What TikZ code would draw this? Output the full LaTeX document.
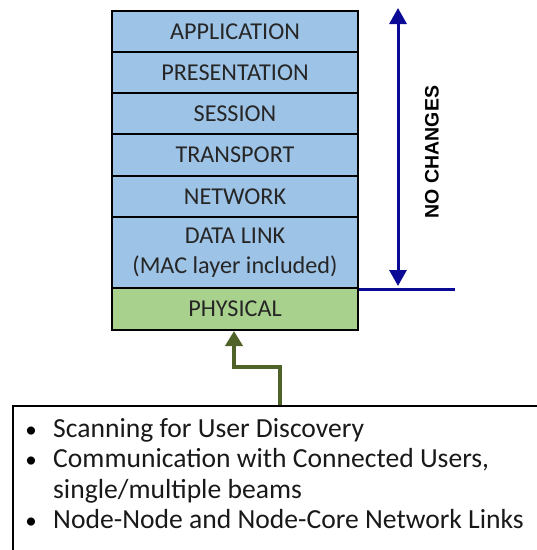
\documentclass[tikz,border=0pt]{standalone}
\usepackage{fontspec}
\setmainfont{Carlito}
\newfontfamily\arialfont{Liberation Sans}
\usetikzlibrary{arrows.meta,calc}
\definecolor{layerblue}{RGB}{157,195,230}
\definecolor{layergreen}{RGB}{169,209,142}
\definecolor{navyline}{RGB}{10,10,150}
\definecolor{olivegreen}{RGB}{79,98,40}
\tikzset{
  layer/.style={draw=black, line width=2pt, fill=layerblue, rectangle, inner sep=0pt,
    minimum width=246pt, anchor=north west, font=\fontsize{24.2}{30}\selectfont, align=center,
    text=black!85},
  bullettext/.style={anchor=base west, inner sep=0pt, font=\fontsize{27.6}{30}\selectfont, text=black!90},
  bulletmark/.style={anchor=base, inner sep=0pt, font=\fontsize{23}{26}\selectfont},
}
\begin{document}
\begin{tikzpicture}[x=1pt,y=-1pt]
\useasboundingbox (0,0) rectangle (537,550);
\node[layer, minimum height=41pt] (app) at (111,10) {APPLICATION};
\node[layer, minimum height=41pt] (pres) at (111,51) {PRESENTATION};
\node[layer, minimum height=41pt] (sess) at (111,92) {SESSION};
\node[layer, minimum height=42pt] (trans) at (111,133) {TRANSPORT};
\node[layer, minimum height=41pt] (net) at (111,175) {NETWORK};
\node[layer, minimum height=71pt] (dl) at (111,216) {DATA LINK\\(MAC layer included)};
\node[layer, minimum height=42pt, fill=layergreen] (phys) at (111,287) {PHYSICAL};

% blue bracket
\coordinate (hend) at (455,287);
\coordinate (atop) at (398,8);
\coordinate (abot) at (398,286);
\draw[navyline, line width=3pt] (dl.south east) -- (dl.south east -| hend);
\draw[navyline, line width=3pt, {Triangle[length=16pt,width=17pt]}-{Triangle[length=16pt,width=17pt]}] (atop) -- (abot);
\node[rotate=90, font=\arialfont\bfseries\fontsize{19.5}{22}\selectfont, inner sep=0pt] (nochg) at (432,152) {NO CHANGES};

% bottom box
\node[draw=black, line width=1.5pt, rectangle, inner sep=0pt, anchor=north west,
  minimum width=560pt, minimum height=170pt] (box) at (12,405) {};
\coordinate (gstart) at (280,405);
\draw[olivegreen, line width=4pt, -{Triangle[length=15pt,width=17pt]}]
  (gstart) -- (280,367) -- (234,367) -- (phys.south -| 234,0);

\node[bulletmark] (b1) at (31,437) {\textbullet};
\node[bullettext] (t1) at (53,437) {Scanning for User Discovery};
\node[bulletmark] (b2) at (31,467.5) {\textbullet};
\node[bullettext] (t2) at (53,467.5) {Communication with Connected Users,};
\node[bullettext] (t3) at (53,498) {single/multiple beams};
\node[bulletmark] (b4) at (31,528.5) {\textbullet};
\node[bullettext] (t4) at (53,528.5) {Node-Node and Node-Core Network Links};
\end{tikzpicture}
\end{document}
